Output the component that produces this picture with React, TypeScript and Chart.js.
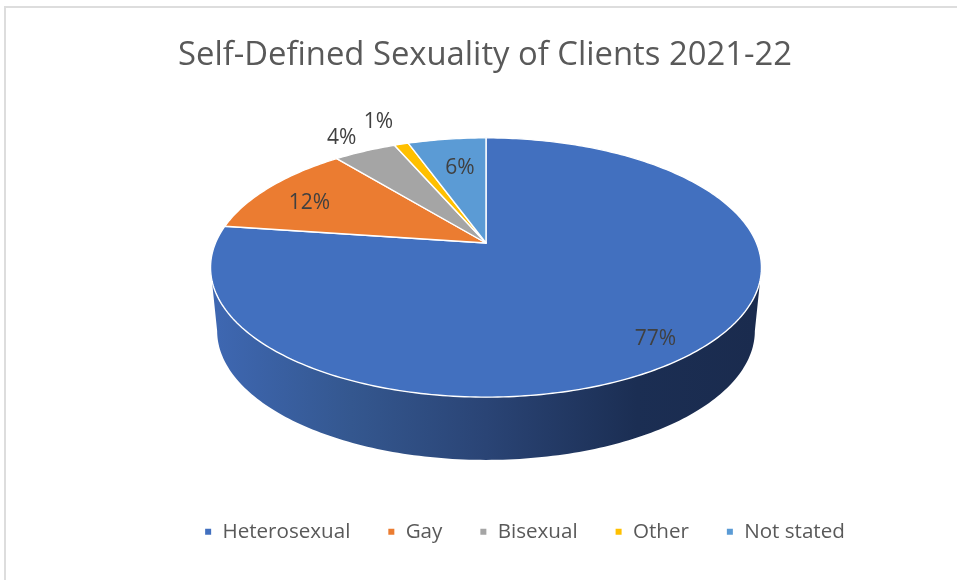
import React, { useEffect, useRef } from "react";
import { Chart, registerables } from "chart.js";

Chart.register(...registerables);

const categories = ["Heterosexual", "Gay", "Bisexual", "Other", "Not stated"];
const shares = [77.2, 11.9, 4.4, 1.0, 5.5];
const sliceColors = ["#4270BF", "#EB7C31", "#A5A5A5", "#FFC000", "#5B9BD5"];
const titleText = "Self-Defined Sexuality of Clients 2021-22";

const FONT = '"Open Sans", "Noto Sans", sans-serif';

// Perspective of the tilted disc
const CX = 486;
const CY = 243;
const A = 270.5;
const B = 125;
const P = 0.189;
const DEPTH_A = 264;
const DEPTH_CY = 306.5;
const DEPTH_B = 124.4;
const LABEL_R = [0.84, 0.8, 1.13, 1.2, 0.68];
const LABEL_NUDGE = [[0, 6], [-1, 6], [-10, -3], [-9, -6], [2, -1]];

const project = (ang: number, r = 1, a = A, b = B, cy = CY) => {
  const u = Math.cos(ang) * r;
  const v = Math.sin(ang) * r;
  const w = 1 - P * v;
  return [CX + (a * u) / w, cy + (b * v) / w];
};

const disc3d = {
  id: "disc3d",
  afterLayout(chart: any) {
    chart.legend.left = 92;
    chart.titleBlock.left = 13;
  },
  beforeDatasetDraw(chart: any) {
    const ctx = chart.ctx;
    const elements = chart.getDatasetMeta(0).data;
    const vis = Math.asin(P);
    // wall
    const grad = ctx.createLinearGradient(217, 0, 755, 0);
    grad.addColorStop(0, "#3E67B1");
    grad.addColorStop(0.25, "#34578F");
    grad.addColorStop(0.5, "#2A4475");
    grad.addColorStop(0.78, "#1B2E53");
    grad.addColorStop(1, "#1A2B4E");
    ctx.save();
    ctx.beginPath();
    const n = 160;
    const a0 = vis;
    const a1 = Math.PI - vis;
    for (let i = 0; i <= n; i++) {
      const t = a0 + ((a1 - a0) * i) / n;
      const [x, y] = project(t);
      i ? ctx.lineTo(x, y) : ctx.moveTo(x, y);
    }
    for (let i = n; i >= 0; i--) {
      const t = a0 + ((a1 - a0) * i) / n;
      const [x, y] = project(t, 1, DEPTH_A, DEPTH_B, DEPTH_CY);
      ctx.lineTo(x, y);
    }
    ctx.closePath();
    ctx.fillStyle = grad;
    ctx.fill();
    // top face
    elements.forEach((el: any) => {
      const { startAngle, endAngle } = el;
      const steps = Math.max(4, Math.ceil((endAngle - startAngle) * 60));
      ctx.beginPath();
      ctx.moveTo(CX, CY);
      for (let i = 0; i <= steps; i++) {
        const t = startAngle + ((endAngle - startAngle) * i) / steps;
        const [x, y] = project(t);
        ctx.lineTo(x, y);
      }
      ctx.closePath();
      ctx.fillStyle = el.options.backgroundColor;
      ctx.fill();
      ctx.lineWidth = 1.4;
      ctx.lineJoin = "round";
      ctx.strokeStyle = "#FFFFFF";
      ctx.stroke();
    });
    // data labels
    ctx.font = `21px ${FONT}`;
    ctx.fillStyle = "#404040";
    ctx.textAlign = "center";
    ctx.textBaseline = "middle";
    elements.forEach((el: any, i: number) => {
      const mid = (el.startAngle + el.endAngle) / 2;
      const [x, y] = project(mid, LABEL_R[i]);
      ctx.fillText(`${Math.round(shares[i])}%`, x + LABEL_NUDGE[i][0], y + LABEL_NUDGE[i][1]);
    });
    ctx.restore();
    return false;
  },
};

const frame = {
  id: "frame",
  beforeDraw(chart: any) {
    const ctx = chart.ctx;
    ctx.save();
    ctx.fillStyle = "#FFFFFF";
    ctx.fillRect(0, 0, chart.width, chart.height);
    ctx.fillStyle = "#DDDDDD";
    ctx.fillRect(4, 6, 953, 2);
    ctx.fillRect(4, 6, 2, 574);
    ctx.restore();
  },
};

export default function App() {
  const ref = useRef<HTMLCanvasElement>(null);
  useEffect(() => {
    document.body.style.margin = "0";
    const chart = new Chart(ref.current!, {
      type: "pie",
      data: {
        labels: categories,
        datasets: [{ data: shares, backgroundColor: sliceColors }],
      },
      options: {
        animation: false,
        responsive: false,
        devicePixelRatio: 1,
        layout: { padding: { top: 22, bottom: 28 } },
        plugins: {
          title: {
            display: true,
            text: titleText,
            color: "#595959",
            font: { family: FONT, size: 32.8, weight: "normal" },
            padding: { top: 14, bottom: 0 },
          },
          legend: {
            position: "bottom",
            labels: {
              color: "#595959",
              boxWidth: 8,
              boxHeight: 8,
              padding: 37,
              font: { family: FONT, size: 20.6 },
            },
          },
          tooltip: { enabled: false },
        },
      },
      plugins: [frame, disc3d],
    });
    return () => chart.destroy();
  }, []);
  return <canvas ref={ref} width={957} height={580} style={{ display: "block" }} />;
}
